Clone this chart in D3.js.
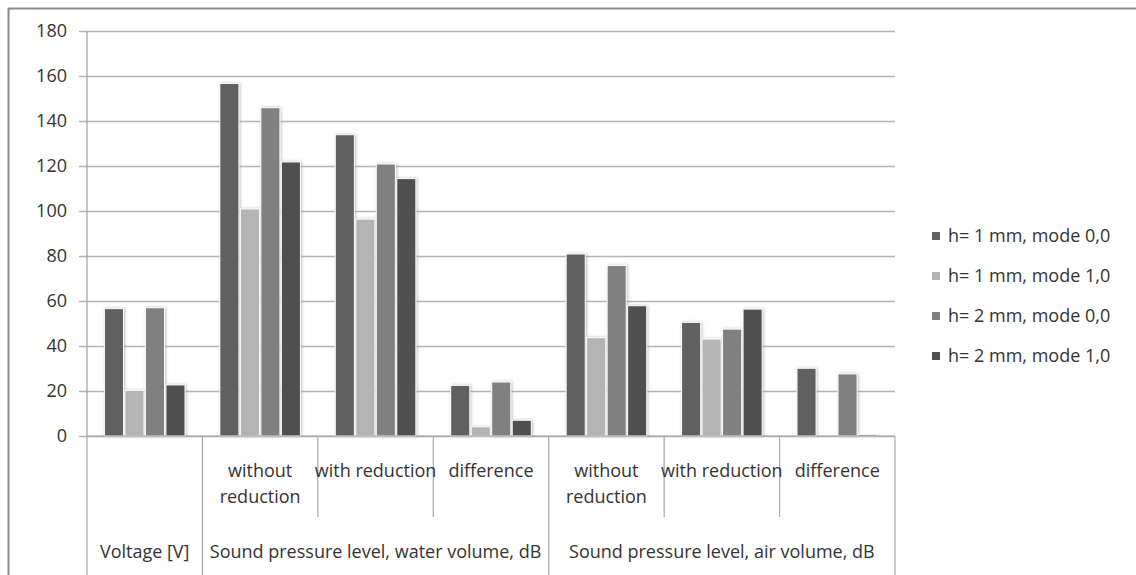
<!DOCTYPE html>
<html>
<head>
<meta charset="utf-8">
<script src="https://cdn.jsdelivr.net/npm/d3@7"></script>
<style>
  html, body { margin: 0; padding: 0; background: #fff; }
  svg { display: block; }
  text { font-family: "Open Sans", "Liberation Sans", sans-serif; fill: #333; }
</style>
</head>
<body>
<svg id="chart" width="1136" height="575"></svg>
<script>
// ---- data ----
const subCategories = ["", "without\nreduction", "with reduction", "difference", "without\nreduction", "with reduction", "difference"];
const groups = [
  { label: "Voltage [V]", from: 0, to: 0 },
  { label: "Sound pressure level, water volume, dB", from: 1, to: 3 },
  { label: "Sound pressure level, air volume, dB", from: 4, to: 6 }
];
const seriesNames = ["h= 1 mm, mode 0,0", "h= 1 mm, mode 1,0", "h= 2 mm, mode 0,0", "h= 2 mm, mode 1,0"];
const s1 = [56.6, 156.7, 133.9, 22.5, 80.9, 50.5, 30.1];
const s2 = [20.3, 100.9, 96.4, 4.1, 43.7, 43.1, 0];
const s3 = [57.0, 145.9, 120.9, 24.0, 75.8, 47.5, 27.6];
const s4 = [22.7, 121.8, 114.4, 7.0, 57.9, 56.4, 0.7];
const seriesValues = [s1, s2, s3, s4];
const yTicks = [0, 20, 40, 60, 80, 100, 120, 140, 160, 180];
const colors = ["#616161", "#b4b4b4", "#808080", "#505050"];

// ---- layout ----
const svg = d3.select("#chart");
const pLeft = 87, pRight = 895, pTop = 31, pBottom = 436;
const fs = "18px";

const x0 = d3.scaleBand().domain(d3.range(subCategories.length)).range([pLeft, pRight]).padding(0);
const x1 = d3.scaleBand().domain(d3.range(seriesNames.length)).range([0, x0.bandwidth()]).paddingInner(0).paddingOuter(0.815);
const y = d3.scaleLinear().domain([0, 180]).range([pBottom, pTop]);

const defs = svg.append("defs");
const f = defs.append("filter").attr("id", "shadow").attr("x", "-30%").attr("y", "-10%").attr("width", "160%").attr("height", "120%");
f.append("feDropShadow").attr("dx", 1).attr("dy", 0).attr("stdDeviation", 1.6).attr("flood-color", "#888").attr("flood-opacity", 0.55);

// outer frame (partial, as in reference)
svg.append("line").attr("x1", 8).attr("x2", 1136).attr("y1", 8.5).attr("y2", 8.5).attr("stroke", "#8a8a8a").attr("stroke-width", 2);
svg.append("line").attr("x1", 8.5).attr("x2", 8.5).attr("y1", 8).attr("y2", 575).attr("stroke", "#8a8a8a").attr("stroke-width", 2);

// gridlines + y axis
const yAxis = d3.axisLeft(y).tickValues(yTicks).tickSize(-(pRight - pLeft + 8)).tickSizeOuter(0).tickPadding(12);
const ya = svg.append("g").attr("transform", `translate(${pLeft - 8},0)`).call(yAxis);
ya.select(".domain").remove();
ya.selectAll(".tick line").attr("stroke", "#b4b4b4").attr("stroke-width", 1.5);
ya.selectAll(".tick text").style("font-size", fs).style("font-family", "\"Open Sans\", sans-serif").attr("fill", "#333");

// vertical axis line
svg.append("line").attr("x1", pLeft).attr("x2", pLeft).attr("y1", pTop).attr("y2", pBottom).attr("stroke", "#a0a0a0").attr("stroke-width", 1.2);

// bars
const cats = svg.append("g").selectAll("g").data(d3.range(subCategories.length)).join("g")
  .attr("transform", i => `translate(${x0(i)},0)`);
cats.selectAll("rect").data(i => seriesValues.map((s, k) => ({ k, v: s[i] })).filter(d => d.v > 0)).join("rect")
  .attr("x", d => x1(d.k) + 0.7)
  .attr("width", x1.bandwidth() - 1.4)
  .attr("y", d => y(d.v))
  .attr("height", d => y(0) - y(d.v))
  .attr("fill", d => colors[d.k])
  .attr("stroke", "#fff").attr("stroke-width", 1)
  .attr("filter", "url(#shadow)");

// x axis line
svg.append("line").attr("x1", pLeft).attr("x2", pRight).attr("y1", pBottom).attr("y2", pBottom).attr("stroke", "#a0a0a0").attr("stroke-width", 1.2);

// category dividers
const groupEdges = new Set();
groups.forEach(g => { groupEdges.add(g.from); groupEdges.add(g.to + 1); });
d3.range(subCategories.length + 1).forEach(i => {
  const xx = i < subCategories.length ? x0(i) : pRight;
  const isOuter = groupEdges.has(i);
  svg.append("line").attr("x1", xx).attr("x2", xx).attr("y1", pBottom).attr("y2", isOuter ? 575 : 517)
    .attr("stroke", "#a8a8a8").attr("stroke-width", 1.2);
});

// sub-category labels
subCategories.forEach((c, i) => {
  const lines = c.split("\n");
  const cx = x0(i) + x0.bandwidth() / 2;
  const t = svg.append("text").attr("x", cx).attr("y", 477)
    .attr("text-anchor", "middle").style("font-size", fs);
  lines.forEach((ln, j) => t.append("tspan").attr("x", cx).attr("dy", j === 0 ? 0 : 26).text(ln));
});

// group labels
groups.forEach(g => {
  const cx = (x0(g.from) + x0(g.to) + x0.bandwidth()) / 2;
  svg.append("text").attr("x", cx).attr("y", 558).attr("text-anchor", "middle").style("font-size", fs).text(g.label);
});

// legend
const lg = svg.append("g");
seriesNames.forEach((n, k) => {
  const cy = 236 + k * 40;
  lg.append("rect").attr("x", 932).attr("y", cy - 4).attr("width", 8).attr("height", 8).attr("fill", colors[k]);
  lg.append("text").attr("x", 948).attr("y", cy).attr("dy", "0.35em").style("font-size", fs).text(n);
});
</script>
</body>
</html>
